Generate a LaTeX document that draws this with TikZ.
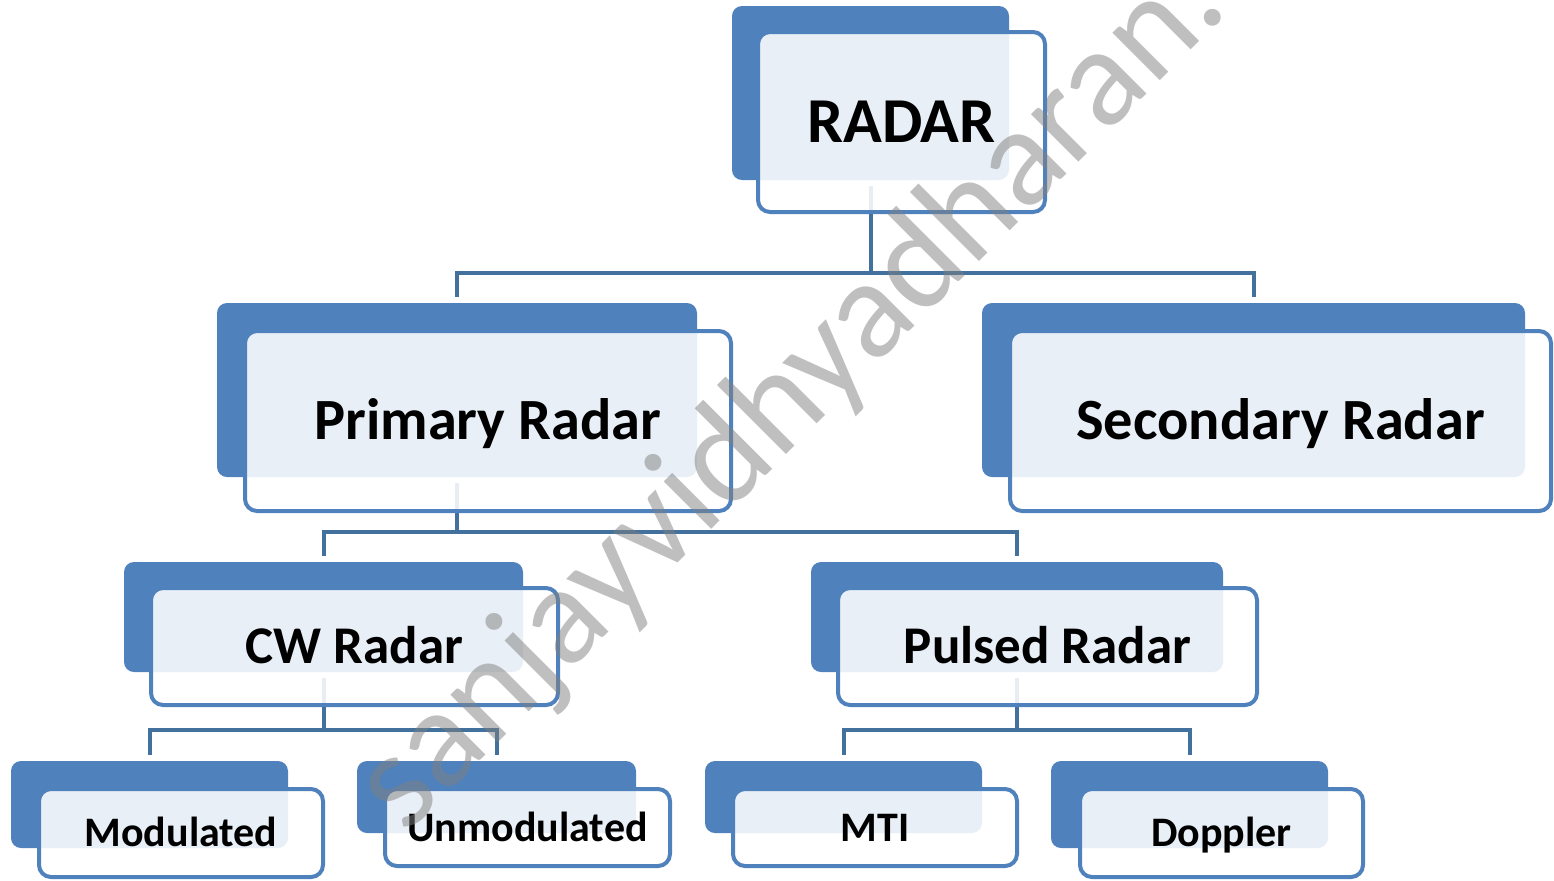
\documentclass[tikz,border=0pt]{standalone}
\usepackage{fontspec}
\setmainfont{Carlito}
\usetikzlibrary{fit}
\definecolor{bblue}{HTML}{4F81BD}
\definecolor{cblue}{HTML}{41719C}
\begin{document}
\begin{tikzpicture}[x=0.5pt,y=-0.5pt,
  backbox/.style={fill=bblue, rounded corners=5pt, inner sep=0pt},
  frontbox/.style={draw=bblue, line width=2pt, fill=white, fill opacity=0.88, text opacity=1,
                   rounded corners=6pt, inner sep=0pt, text depth=0pt, anchor=center},
  lvlzero/.style={font=\bfseries\fontsize{32pt}{32pt}\selectfont, text height=20.6pt},
  lvlone/.style={font=\bfseries\fontsize{29.2pt}{29.2pt}\selectfont, text height=18.8pt},
  lvltwo/.style={font=\bfseries\fontsize{26.5pt}{26.5pt}\selectfont, text height=17.1pt},
  lvlthree/.style={font=\bfseries\fontsize{21pt}{21pt}\selectfont, text height=13.5pt},
  conn/.style={draw=cblue, line width=2pt},
  watermark/.style={text=black!50, text opacity=0.5, font=\fontsize{70.3pt}{70.3pt}\selectfont}
]
\useasboundingbox (0,0) rectangle (1554,880);

% back boxes
\node[backbox, fit={(732,6) (1009,180)}] (bR) {};
\node[backbox, fit={(217,303) (697,477)}] (bP) {};
\node[backbox, fit={(982,303) (1525,477)}] (bS) {};
\node[backbox, fit={(124,562) (523,672)}] (bC) {};
\node[backbox, fit={(811,562) (1223,672)}] (bU) {};
\node[backbox, fit={(11,761) (288,848)}] (bM) {};
\node[backbox, fit={(357,761) (636,833)}] (bN) {};
\node[backbox, fit={(705,761) (982,833)}] (bT) {};
\node[backbox, fit={(1051,761) (1328,848)}] (bD) {};

% level coordinates
\coordinate (lvA) at (0,273);
\coordinate (lvB) at (0,532);
\coordinate (lvC) at (0,730);

% connectors
\draw[conn] ([yshift=-3pt]bR.south) -- (bR.south |- lvA) -| ([yshift=3pt]bP.north);
\draw[conn] (bR.south |- lvA) -| ([yshift=3pt]bS.north);
\draw[conn] ([yshift=-3pt]bP.south) -- (bP.south |- lvB) -| ([yshift=3pt]bC.north);
\draw[conn] (bP.south |- lvB) -| ([yshift=3pt]bU.north);
\draw[conn] ([yshift=-3pt]bC.south) -- (bC.south |- lvC) -| ([yshift=3pt]bM.north);
\draw[conn] (bC.south |- lvC) -| ([yshift=3pt]bN.north);
\draw[conn] ([yshift=-3pt]bU.south) -- (bU.south |- lvC) -| ([yshift=3pt]bT.north);
\draw[conn] (bU.south |- lvC) -| ([yshift=3pt]bD.north);

% front boxes with text
\node[frontbox, lvlzero, minimum width=143.5pt, minimum height=90pt] (fR) at (901.5,122) {RADAR};
\node[frontbox, lvlone, minimum width=243pt, minimum height=90pt] (fP) at (488,421) {Primary Radar};
\node[frontbox, lvlone, minimum width=270.5pt, minimum height=90pt] (fS) at (1280.5,421) {Secondary Radar};
\node[frontbox, lvltwo, minimum width=203.5pt, minimum height=58.5pt] (fC) at (354.5,646.5) {CW Radar};
\node[frontbox, lvltwo, minimum width=209.5pt, minimum height=58.5pt] (fU) at (1047.5,646.5) {Pulsed Radar};
\node[frontbox, lvlthree, minimum width=142pt, minimum height=44pt] (fM) at (181,833) {Modulated};
\node[frontbox, lvlthree, minimum width=142.5pt, minimum height=38.5pt] (fN) at (527.5,827.5) {Unmodulated};
\node[frontbox, lvlthree, minimum width=142pt, minimum height=38.5pt] (fT) at (875,827.5) {MTI};
\node[frontbox, lvlthree, minimum width=141.5pt, minimum height=44pt] (fD) at (1221.5,833) {Doppler};

% watermark
\node[watermark, anchor=base, rotate=45] (wm) at (818,423) {sanjayvidhyadharan.};
\end{tikzpicture}
\end{document}
